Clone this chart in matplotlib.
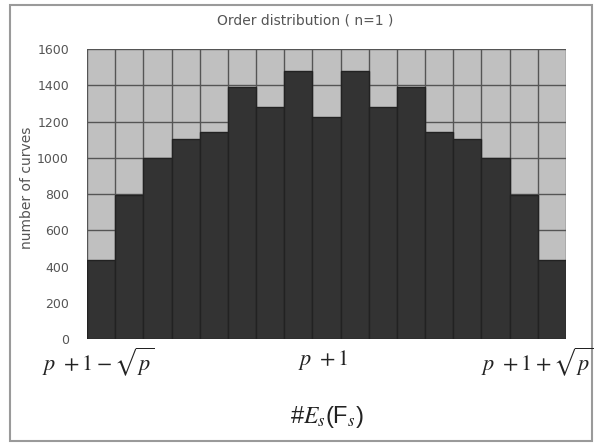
import matplotlib
matplotlib.use("Agg")
import matplotlib.pyplot as plt
from matplotlib.patches import Rectangle
import numpy as np

counts = [435, 795, 1000, 1105, 1140, 1390, 1280, 1480, 1225,
          1480, 1280, 1390, 1140, 1105, 1000, 795, 435]
yticks = [0, 200, 400, 600, 800, 1000, 1200, 1400, 1600]
title = "Order distribution ( n=1 )"
ylabel = "number of curves"
xlabels = [r"$p\ +1-\sqrt{p}$", r"$p\ +1$", r"$p\ +1+\sqrt{p}$"]
xlabel = r"#$E_s$(F$_s$)"

plt.rcParams["mathtext.fontset"] = "stix"
fig = plt.figure(figsize=(6.02, 4.44), dpi=100)
fig.patch.set_facecolor("white")
fig.patches.append(Rectangle((10/602, 1-441/444), 582/602, 436/444,
                             transform=fig.transFigure, fill=False,
                             edgecolor="#9a9a9a", linewidth=1.5))

ax = fig.add_axes([87/602, 1-339/444, 479/602, 290/444])
ax.set_facecolor("#c0c0c0")
n = len(counts)
x = np.arange(n)
ax.bar(x, counts, width=1.0, color="#333333", edgecolor="#222222",
       linewidth=1.0, zorder=3)
ax.set_xlim(-0.5, n-0.5)
ax.set_ylim(0, 1600)
ax.set_yticks(yticks)
ax.set_yticklabels([str(v) for v in yticks], fontsize=9, color="#555555")
ax.set_xticks(np.arange(n+1)-0.5)
ax.set_xticklabels([])
ax.tick_params(length=0, pad=13)
ax.grid(True, color="#555555", linewidth=1.0, zorder=1)
ax.set_axisbelow(True)
for s in ax.spines.values():
    s.set_visible(False)
ax.set_ylabel(ylabel, fontsize=10, color="#555555")
ax.yaxis.set_label_coords(-0.11, 0.52)

fig.text(305/602, 1-20/444, title, fontsize=10, color="#555555",
         ha="center", va="center")
fig.text(98/602, 1-362/444, xlabels[0], fontsize=16, color="#222222",
         ha="center", va="center")
fig.text(323/602, 1-360/444, xlabels[1], fontsize=16, color="#222222",
         ha="center", va="center")
fig.text(537/602, 1-362/444, xlabels[2], fontsize=16, color="#222222",
         ha="center", va="center")
fig.text(327/602, 1-417/444, xlabel, fontsize=17, color="#222222",
         ha="center", va="center", family="Liberation Sans")

fig.savefig("out.png", dpi=100)
